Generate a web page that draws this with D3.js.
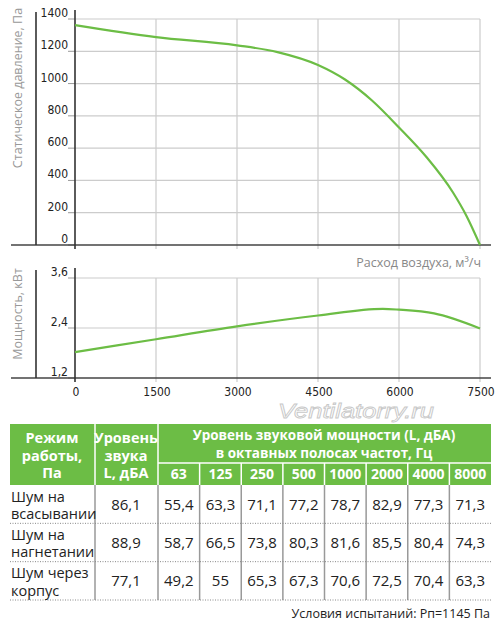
<!DOCTYPE html>
<html>
<head>
<meta charset="utf-8">
<style>
  body { margin: 0; background: #fff; }
  svg { display: block; }
  .tick-lab { font-family: "Liberation Sans Narrow", "DejaVu Sans Condensed", sans-serif; font-size: 12px; fill: #222; }
  .ax-title { font-family: "Open Sans", sans-serif; font-size: 12.5px; fill: #999; }
  .cell { font-family: "Open Sans", sans-serif; font-size: 15px; fill: #222; }
  .head { font-family: "Open Sans", sans-serif; font-weight: bold; fill: #fff; }
</style>
</head>
<body>
<div id="viz"></div>
<script src="https://d3js.org/d3.v7.min.js"></script>
<script>
// pressure curve, Па vs м3/ч
var flow = [0, 1500, 3000, 3750, 4500, 5000, 5500, 6000, 6500, 7000, 7250, 7500];
var pressure = [1362, 1288, 1237, 1195, 1115, 1025, 895, 728, 548, 325, 180, 0];
// power curve, кВт
var flowW = [0, 1500, 3000, 4500, 5700, 6000, 6650, 7500];
var power = [1.82, 2.13, 2.44, 2.70, 2.86, 2.84, 2.75, 2.39];

var xTicks = [0, 1500, 3000, 4500, 6000, 7500];
var pTicks = [0, 200, 400, 600, 800, 1000, 1200, 1400];
var wTicks = [1.2, 2.4, 3.6];

// noise table
var freqs = ["63", "125", "250", "500", "1000", "2000", "4000", "8000"];
var modes = [["Шум на", "всасывании"], ["Шум на", "нагнетании"], ["Шум через", "корпус"]];
var totalLevel = [86.1, 88.9, 77.1];
var bandLevels = [
  [55.4, 63.3, 71.1, 77.2, 78.7, 82.9, 77.3, 71.3],
  [58.7, 66.5, 73.8, 80.3, 81.6, 85.5, 80.4, 74.3],
  [49.2, 55, 65.3, 67.3, 70.6, 72.5, 70.4, 63.3]
];

var green = "#6cbd45";
var svg = d3.select("#viz").append("svg").attr("width", 500).attr("height", 623);

var x = d3.scaleLinear().domain([0, 7500]).range([75, 480]);
var yP = d3.scaleLinear().domain([0, 1400]).range([245, 19]);
var yW = d3.scaleLinear().domain([1.2, 3.6]).range([378, 278]);
var comma = function(v) { return String(v).replace(".", ","); };

function panel(y, ticks, y0, fmt, yTop) {
  var g = svg.append("g");
  // grid
  g.selectAll(".hg").data(ticks.slice(1)).enter().append("line")
    .attr("x1", x(0)).attr("x2", x(7500))
    .attr("y1", function(d) { return y(d); }).attr("y2", function(d) { return y(d); })
    .attr("stroke", "#ccc").attr("stroke-width", 1.2);
  g.selectAll(".vg").data(xTicks.slice(1)).enter().append("line")
    .attr("x1", function(d) { return x(d); }).attr("x2", function(d) { return x(d); })
    .attr("y1", y(ticks[ticks.length - 1])).attr("y2", y0 + 4)
    .attr("stroke", "#ccc").attr("stroke-width", 1.2);
  // left ticks + labels
  g.selectAll(".yt").data(ticks).enter().append("line")
    .attr("x1", x(0) - 7).attr("x2", x(0))
    .attr("y1", function(d) { return y(d); }).attr("y2", function(d) { return y(d); })
    .attr("stroke", "#999").attr("stroke-width", 1);
  g.selectAll(".yl").data(ticks).enter().append("text")
    .attr("class", "tick-lab").attr("text-anchor", "end")
    .attr("x", 68).attr("y", function(d) { return y(d) - 2; })
    .text(fmt);
  // axes
  g.append("line").attr("x1", 11).attr("x2", 491).attr("y1", y0).attr("y2", y0)
    .attr("stroke", "#444").attr("stroke-width", 1.6);
  g.append("line").attr("x1", x(0)).attr("x2", x(0)).attr("y1", yTop).attr("y2", y0 + 4)
    .attr("stroke", "#333").attr("stroke-width", 1.6);
  g.append("line").attr("x1", 36).attr("x2", 36).attr("y1", yTop + 2).attr("y2", y0)
    .attr("stroke", "#333").attr("stroke-width", 1.6);
  return g;
}

panel(yP, pTicks, 245, function(d) { return d; }, 10);
panel(yW, wTicks, 378, comma, 268);

svg.append("path").datum(d3.zip(flow, pressure))
  .attr("fill", "none").attr("stroke", green).attr("stroke-width", 2.2)
  .attr("d", d3.line().x(function(d) { return x(d[0]); }).y(function(d) { return yP(d[1]); }).curve(d3.curveMonotoneX));
svg.append("path").datum(d3.zip(flowW, power))
  .attr("fill", "none").attr("stroke", green).attr("stroke-width", 2.2)
  .attr("d", d3.line().x(function(d) { return x(d[0]); }).y(function(d) { return yW(d[1]); }).curve(d3.curveMonotoneX));

svg.selectAll(".xl").data(xTicks).enter().append("text")
  .attr("class", "tick-lab").attr("text-anchor", "middle")
  .attr("x", function(d) { return x(d) + 1; }).attr("y", 396)
  .text(function(d) { return d; });

svg.append("text").attr("class", "ax-title").attr("text-anchor", "middle")
  .attr("transform", "translate(22,88) rotate(-90)").text("Статическое давление, Па");
svg.append("text").attr("class", "ax-title").attr("text-anchor", "middle")
  .attr("transform", "translate(22,314) rotate(-90)").text("Мощность, кВт");
svg.append("text").attr("class", "ax-title").attr("text-anchor", "end")
  .attr("x", 481).attr("y", 267).style("fill", "#888").text("Расход воздуха, м³/ч");

// watermark
svg.append("text").attr("x", 356).attr("y", 418).attr("text-anchor", "middle")
  .style("font-family", "Liberation Sans, sans-serif").style("font-style", "italic")
  .style("font-size", "20px").attr("fill", "#fff").attr("stroke", "#c8c8c8").attr("stroke-width", 0.8)
  .attr("textLength", 156).attr("lengthAdjust", "spacingAndGlyphs")
  .text("Ventilatorry.ru");

// ---- table ----
var fx = d3.scaleBand().domain(freqs).range([158, 491]);
var tTop = 424, hMid = 463, hBot = 485;
var rowY = d3.scaleBand().domain(d3.range(modes.length)).range([hBot, 600]);

var t = svg.append("g");
t.append("rect").attr("x", 10).attr("y", tTop).attr("width", 481).attr("height", hBot - tTop).attr("fill", green);
// header separators
[95, 158].forEach(function(cx) {
  t.append("line").attr("x1", cx).attr("x2", cx).attr("y1", tTop).attr("y2", hBot).attr("stroke", "#fff").attr("stroke-width", 1.5);
});
t.append("line").attr("x1", 158).attr("x2", 491).attr("y1", hMid).attr("y2", hMid).attr("stroke", "#fff").attr("stroke-width", 1.5);
t.selectAll(".fs").data(freqs.slice(1)).enter().append("line")
  .attr("x1", function(d) { return fx(d); }).attr("x2", function(d) { return fx(d); })
  .attr("y1", hMid).attr("y2", hBot).attr("stroke", "#fff").attr("stroke-width", 1.5);

function headLines(cx, lines, y0, size) {
  lines.forEach(function(s, i) {
    t.append("text").attr("class", "head").attr("text-anchor", "middle")
      .attr("x", cx).attr("y", y0 + i * 17.5).style("font-size", size + "px").text(s);
  });
}
headLines(52, ["Режим", "работы,", "Па"], 443, 14.5);
headLines(126, ["Уровень", "звука", "L, дБА"], 443, 14.5);
headLines(324, ["Уровень звуковой мощности (L, дБА)", "в октавных полосах частот, Гц"], 440, 13.5);
t.selectAll(".fl").data(freqs).enter().append("text").attr("class", "head")
  .attr("text-anchor", "middle").style("font-size", "14px")
  .attr("x", function(d) { return fx(d) + fx.bandwidth() / 2; }).attr("y", 479)
  .text(function(d) { return d; });

// body lines
var vCols = [95, 158].concat(freqs.slice(1).map(function(d) { return fx(d); }));
t.selectAll(".bv").data(vCols).enter().append("line")
  .attr("x1", function(d) { return d; }).attr("x2", function(d) { return d; })
  .attr("y1", hBot).attr("y2", 600).attr("stroke", "#999").attr("stroke-width", 1.5);
t.selectAll(".bh").data(d3.range(modes.length)).enter().append("line")
  .attr("x1", 10).attr("x2", 491)
  .attr("y1", function(i) { return rowY(i) + rowY.bandwidth(); })
  .attr("y2", function(i) { return rowY(i) + rowY.bandwidth(); })
  .attr("stroke", "#888").attr("stroke-width", 1).attr("stroke-dasharray", "1,1.5");

modes.forEach(function(m, i) {
  var ry = rowY(i), rc = ry + rowY.bandwidth() / 2;
  t.append("text").attr("class", "cell").style("font-size", "14.5px").attr("x", 11).attr("y", ry + 16.5).text(m[0]);
  t.append("text").attr("class", "cell").style("font-size", "14.5px").attr("x", 11).attr("y", ry + 34).text(m[1]);
  t.append("text").attr("class", "cell").attr("text-anchor", "middle")
    .attr("x", 126).attr("y", rc + 5.5).text(comma(totalLevel[i]));
  t.selectAll(".v" + i).data(bandLevels[i]).enter().append("text").attr("class", "cell")
    .attr("text-anchor", "middle")
    .attr("x", function(d, j) { return fx(freqs[j]) + fx.bandwidth() / 2; }).attr("y", rc + 5.5)
    .text(comma);
});

svg.append("text").attr("x", 490).attr("y", 618).attr("text-anchor", "end")
  .style("font-family", "Open Sans, sans-serif").style("font-size", "12.5px").attr("fill", "#222")
  .text("Условия испытаний: Рп=1145 Па");
</script>
</body>
</html>
